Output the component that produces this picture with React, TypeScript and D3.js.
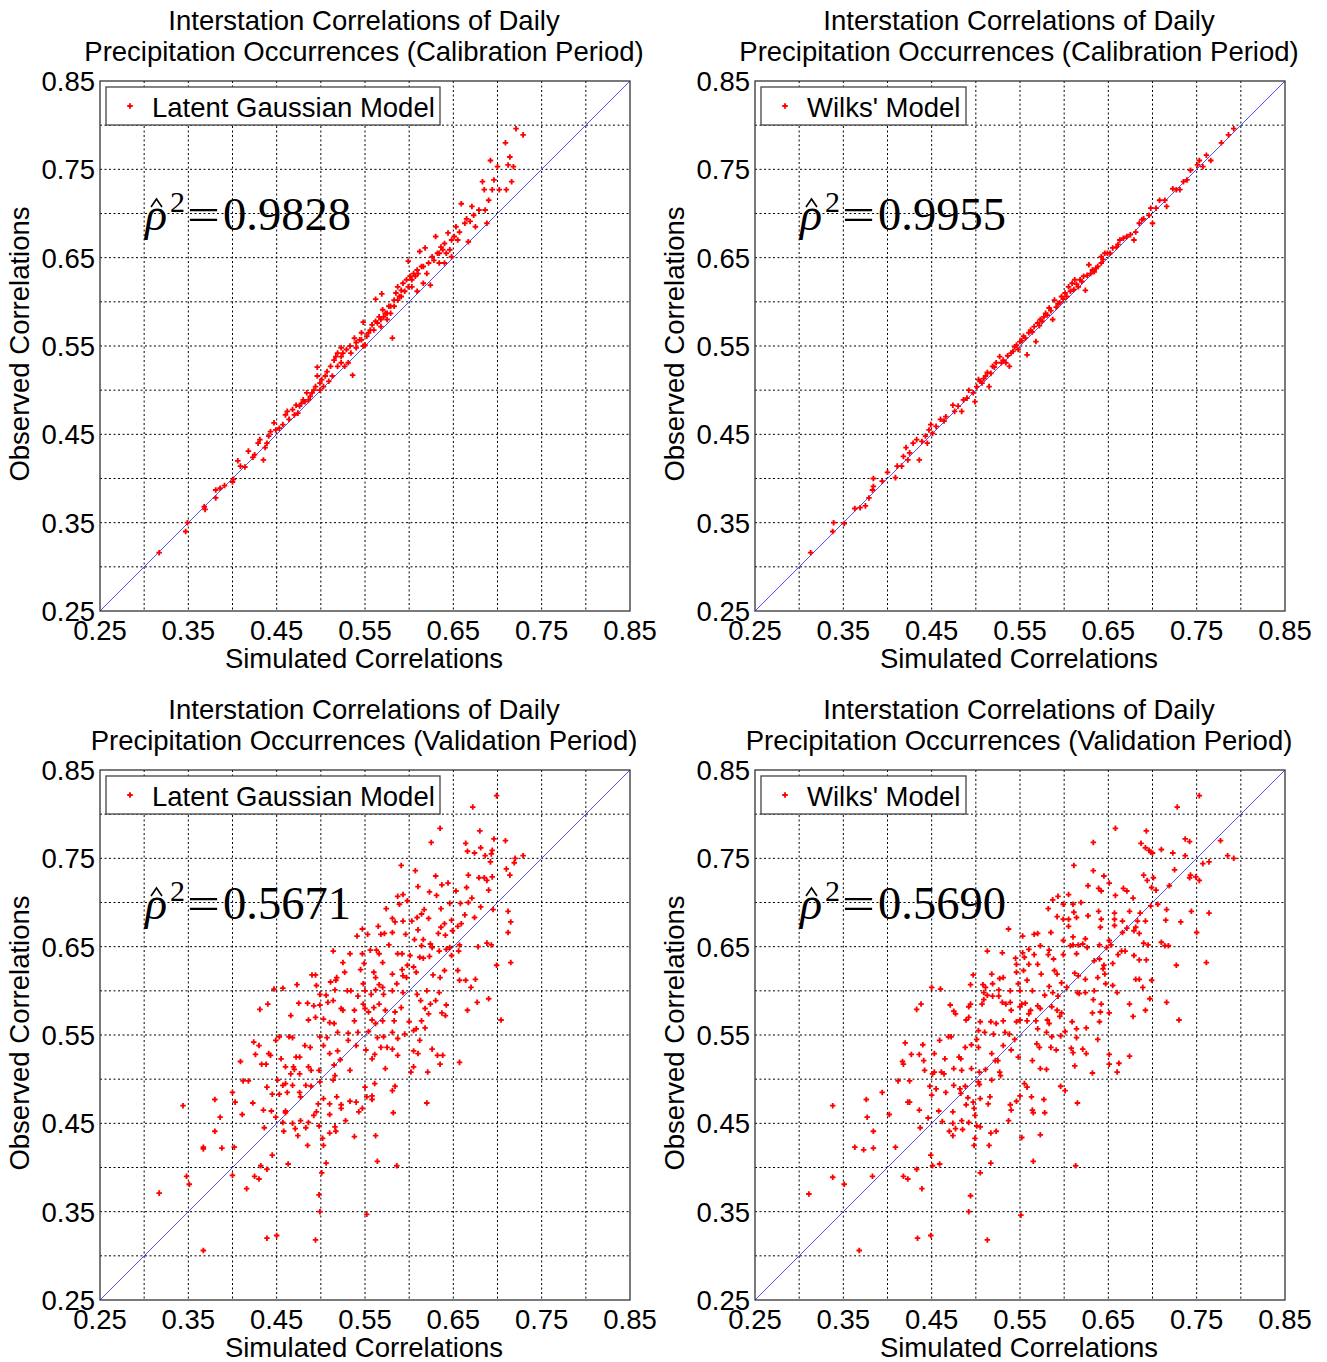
import React from "react";
import * as d3 from "d3";

type Pt = [number, number];

// [simulated, observed]
const calLatent: Pt[] = [
  [0.317,0.316],[0.349,0.350],[0.347,0.340],[0.368,0.368],[0.369,0.365],[0.381,0.378],[0.381,0.387],[0.386,0.389],[0.391,0.392],[0.401,0.399],
  [0.400,0.396],[0.406,0.420],[0.414,0.413],[0.409,0.414],[0.418,0.431],[0.423,0.424],[0.425,0.427],[0.429,0.440],[0.431,0.444],[0.435,0.421],
  [0.437,0.435],[0.439,0.440],[0.441,0.448],[0.443,0.453],[0.447,0.463],[0.449,0.455],[0.453,0.457],[0.457,0.461],[0.460,0.472],[0.464,0.467],
  [0.468,0.478],[0.472,0.483],[0.474,0.474],[0.478,0.485],[0.480,0.489],[0.484,0.497],[0.488,0.493],[0.492,0.500],[0.494,0.504],[0.496,0.526],
  [0.496,0.516],[0.499,0.508],[0.501,0.512],[0.505,0.516],[0.507,0.521],[0.511,0.527],[0.515,0.534],[0.517,0.538],[0.519,0.542],[0.523,0.548],
  [0.525,0.542],[0.527,0.527],[0.531,0.531],[0.536,0.517],[0.533,0.550],[0.538,0.559],[0.540,0.554],[0.544,0.557],[0.546,0.565],[0.548,0.550],
  [0.552,0.561],[0.556,0.568],[0.558,0.574],[0.562,0.578],[0.566,0.583],[0.568,0.572],[0.570,0.591],[0.573,0.587],[0.575,0.580],[0.577,0.595],
  [0.579,0.587],[0.581,0.559],[0.583,0.602],[0.548,0.577],[0.562,0.603],[0.569,0.609],[0.585,0.610],[0.587,0.617],[0.589,0.606],[0.591,0.613],
  [0.593,0.621],[0.597,0.625],[0.599,0.646],[0.601,0.629],[0.603,0.617],[0.605,0.632],[0.609,0.636],[0.612,0.657],[0.614,0.640],[0.618,0.661],
  [0.620,0.632],[0.624,0.619],[0.626,0.651],[0.630,0.674],[0.632,0.655],[0.634,0.644],[0.636,0.662],[0.640,0.666],[0.642,0.655],[0.644,0.678],
  [0.646,0.659],[0.648,0.670],[0.651,0.674],[0.653,0.685],[0.655,0.670],[0.657,0.679],[0.659,0.711],[0.663,0.689],[0.665,0.694],[0.669,0.691],
  [0.671,0.708],[0.673,0.698],[0.675,0.685],[0.679,0.704],[0.683,0.736],[0.685,0.727],[0.686,0.704],[0.690,0.715],[0.692,0.760],[0.694,0.727],
  [0.696,0.738],[0.700,0.753],[0.702,0.727],[0.710,0.727],[0.709,0.780],[0.712,0.755],[0.714,0.764],[0.716,0.736],[0.718,0.753],[0.721,0.796],
  [0.729,0.789],[0.688,0.689],[0.667,0.668],[0.648,0.651],[0.640,0.644],[0.616,0.621],[0.609,0.612],[0.523,0.538],[0.529,0.546],[0.534,0.542],
  [0.540,0.548],[0.546,0.557],[0.550,0.551],[0.554,0.565],[0.560,0.568],[0.564,0.576],[0.568,0.580],[0.571,0.583],[0.575,0.587],[0.579,0.595],
  [0.583,0.595],[0.587,0.602],[0.591,0.606],[0.595,0.612],[0.599,0.617],[0.603,0.625],[0.607,0.629],[0.610,0.632],[0.616,0.640],[0.622,0.644],
  [0.628,0.647],[0.634,0.655],[0.638,0.659],[0.462,0.476],[0.470,0.472],[0.476,0.482],[0.482,0.487],[0.486,0.489],[0.490,0.497],[0.499,0.500],
  [0.503,0.504],[0.509,0.510],[0.513,0.516],[0.519,0.527],[0.523,0.531],
];

const calWilks: Pt[] = [
  [0.313,0.316],[0.339,0.350],[0.338,0.340],[0.351,0.349],[0.363,0.366],[0.369,0.367],[0.375,0.369],[0.379,0.378],[0.383,0.387],[0.384,0.391],
  [0.384,0.400],[0.394,0.397],[0.400,0.407],[0.409,0.401],[0.411,0.414],[0.416,0.414],[0.418,0.425],[0.421,0.435],[0.423,0.421],[0.425,0.429],
  [0.429,0.440],[0.433,0.444],[0.436,0.421],[0.439,0.442],[0.443,0.448],[0.445,0.440],[0.447,0.455],[0.449,0.461],[0.451,0.451],[0.455,0.459],
  [0.460,0.467],[0.464,0.465],[0.466,0.470],[0.474,0.483],[0.476,0.476],[0.480,0.482],[0.484,0.476],[0.486,0.489],[0.490,0.491],[0.492,0.500],
  [0.497,0.497],[0.499,0.487],[0.501,0.504],[0.503,0.512],[0.507,0.508],[0.511,0.516],[0.515,0.504],[0.519,0.527],[0.523,0.531],[0.527,0.538],
  [0.531,0.534],[0.534,0.531],[0.538,0.527],[0.540,0.542],[0.544,0.549],[0.548,0.546],[0.550,0.555],[0.554,0.561],[0.558,0.540],[0.560,0.565],
  [0.562,0.568],[0.566,0.572],[0.568,0.555],[0.570,0.576],[0.573,0.580],[0.577,0.583],[0.579,0.587],[0.583,0.593],[0.587,0.580],[0.589,0.602],
  [0.593,0.598],[0.597,0.606],[0.601,0.610],[0.605,0.617],[0.609,0.621],[0.612,0.625],[0.616,0.617],[0.618,0.625],[0.622,0.629],[0.624,0.613],
  [0.628,0.642],[0.630,0.632],[0.634,0.634],[0.638,0.640],[0.642,0.644],[0.642,0.651],[0.646,0.655],[0.649,0.655],[0.655,0.661],[0.659,0.662],
  [0.663,0.670],[0.667,0.672],[0.671,0.674],[0.675,0.676],[0.679,0.670],[0.681,0.679],[0.685,0.689],[0.688,0.693],[0.690,0.694],[0.696,0.698],
  [0.700,0.689],[0.698,0.706],[0.704,0.706],[0.708,0.715],[0.714,0.715],[0.716,0.708],[0.723,0.728],[0.727,0.727],[0.731,0.727],[0.735,0.736],
  [0.739,0.738],[0.743,0.749],[0.751,0.755],[0.753,0.760],[0.757,0.753],[0.761,0.766],[0.766,0.760],[0.778,0.780],[0.786,0.789],[0.792,0.796],
  [0.505,0.510],[0.509,0.513],[0.513,0.520],[0.517,0.519],[0.521,0.526],[0.529,0.531],[0.536,0.539],[0.542,0.544],[0.546,0.551],[0.552,0.556],
  [0.556,0.559],[0.564,0.566],[0.572,0.573],[0.575,0.578],[0.581,0.585],[0.585,0.590],[0.591,0.594],[0.595,0.599],[0.599,0.603],[0.603,0.606],
  [0.607,0.612],[0.611,0.614],[0.614,0.620],[0.620,0.623],[0.626,0.630],[0.632,0.636],[0.636,0.638],[0.644,0.648],[0.652,0.655],[0.661,0.665],
];

const valLatent: Pt[] = [
  [0.699,0.821],[0.672,0.808],[0.635,0.784],[0.680,0.781],[0.625,0.768],[0.696,0.772],[0.664,0.767],[0.709,0.770],[0.666,0.758],[0.674,0.756],
  [0.681,0.762],[0.686,0.753],[0.692,0.746],[0.694,0.759],[0.693,0.755],[0.720,0.750],[0.729,0.753],[0.719,0.745],[0.591,0.742],[0.607,0.736],
  [0.710,0.738],[0.714,0.731],[0.630,0.730],[0.667,0.731],[0.679,0.728],[0.685,0.728],[0.688,0.725],[0.694,0.729],[0.690,0.714],[0.644,0.722],
  [0.637,0.720],[0.610,0.718],[0.665,0.717],[0.671,0.705],[0.623,0.712],[0.631,0.708],[0.593,0.709],[0.587,0.707],[0.653,0.713],[0.598,0.702],
  [0.646,0.699],[0.658,0.699],[0.667,0.700],[0.589,0.698],[0.574,0.693],[0.617,0.692],[0.636,0.693],[0.681,0.695],[0.695,0.692],[0.712,0.690],
  [0.663,0.686],[0.581,0.682],[0.603,0.679],[0.609,0.683],[0.614,0.687],[0.622,0.682],[0.674,0.683],[0.648,0.680],[0.640,0.676],[0.584,0.678],
  [0.593,0.679],[0.715,0.678],[0.659,0.676],[0.655,0.673],[0.636,0.672],[0.565,0.673],[0.581,0.666],[0.610,0.669],[0.633,0.665],[0.641,0.663],
  [0.649,0.668],[0.712,0.666],[0.547,0.670],[0.541,0.662],[0.553,0.664],[0.568,0.664],[0.572,0.665],[0.596,0.664],[0.616,0.658],[0.606,0.658],
  [0.624,0.653],[0.688,0.654],[0.693,0.652],[0.678,0.650],[0.626,0.649],[0.614,0.651],[0.646,0.649],[0.656,0.645],[0.648,0.640],[0.642,0.647],
  [0.657,0.652],[0.563,0.646],[0.577,0.652],[0.587,0.642],[0.592,0.642],[0.623,0.639],[0.616,0.637],[0.612,0.638],[0.601,0.640],[0.634,0.645],
  [0.514,0.645],[0.533,0.642],[0.547,0.642],[0.556,0.646],[0.566,0.642],[0.570,0.632],[0.549,0.631],[0.525,0.632],[0.715,0.632],[0.699,0.629],
  [0.598,0.629],[0.605,0.627],[0.608,0.621],[0.627,0.618],[0.635,0.615],[0.640,0.623],[0.655,0.623],[0.657,0.612],[0.664,0.612],[0.675,0.613],
  [0.670,0.604],[0.592,0.624],[0.581,0.619],[0.593,0.617],[0.586,0.608],[0.597,0.615],[0.560,0.621],[0.562,0.615],[0.545,0.624],[0.527,0.621],
  [0.494,0.618],[0.490,0.618],[0.495,0.606],[0.518,0.615],[0.511,0.610],[0.517,0.612],[0.548,0.608],[0.566,0.607],[0.570,0.604],[0.550,0.600],
  [0.562,0.601],[0.581,0.600],[0.593,0.598],[0.609,0.596],[0.620,0.600],[0.634,0.598],[0.473,0.607],[0.457,0.603],[0.447,0.602],[0.499,0.596],
  [0.506,0.595],[0.530,0.600],[0.534,0.600],[0.516,0.601],[0.542,0.594],[0.557,0.596],[0.571,0.596],[0.677,0.587],[0.690,0.591],[0.666,0.578],
  [0.642,0.584],[0.630,0.589],[0.613,0.589],[0.624,0.585],[0.618,0.580],[0.641,0.572],[0.637,0.575],[0.704,0.567],[0.440,0.585],[0.431,0.579],
  [0.475,0.586],[0.485,0.586],[0.492,0.583],[0.499,0.584],[0.508,0.587],[0.514,0.589],[0.523,0.580],[0.525,0.578],[0.538,0.578],[0.548,0.585],
  [0.550,0.580],[0.554,0.576],[0.560,0.581],[0.566,0.585],[0.573,0.578],[0.584,0.576],[0.591,0.581],[0.466,0.572],[0.486,0.567],[0.494,0.570],
  [0.503,0.568],[0.510,0.564],[0.515,0.563],[0.538,0.566],[0.558,0.567],[0.562,0.563],[0.570,0.566],[0.583,0.566],[0.600,0.565],[0.614,0.566],
  [0.622,0.574],[0.618,0.558],[0.608,0.557],[0.605,0.555],[0.612,0.544],[0.595,0.551],[0.587,0.546],[0.581,0.553],[0.571,0.548],[0.564,0.547],
  [0.554,0.554],[0.542,0.553],[0.531,0.552],[0.519,0.553],[0.507,0.547],[0.499,0.548],[0.464,0.548],[0.468,0.547],[0.453,0.548],[0.449,0.544],
  [0.424,0.542],[0.430,0.538],[0.426,0.528],[0.441,0.529],[0.443,0.527],[0.455,0.523],[0.472,0.525],[0.476,0.525],[0.482,0.538],[0.488,0.536],
  [0.486,0.514],[0.503,0.538],[0.510,0.529],[0.519,0.532],[0.522,0.522],[0.531,0.544],[0.540,0.538],[0.551,0.533],[0.558,0.523],[0.561,0.528],
  [0.568,0.536],[0.575,0.536],[0.581,0.534],[0.587,0.527],[0.605,0.532],[0.610,0.529],[0.626,0.534],[0.632,0.527],[0.638,0.527],[0.635,0.517],
  [0.657,0.519],[0.573,0.512],[0.605,0.514],[0.621,0.508],[0.602,0.508],[0.409,0.520],[0.438,0.517],[0.433,0.517],[0.460,0.514],[0.469,0.514],
  [0.470,0.511],[0.466,0.506],[0.476,0.506],[0.489,0.510],[0.498,0.510],[0.515,0.516],[0.516,0.504],[0.533,0.510],[0.412,0.498],[0.418,0.498],
  [0.439,0.491],[0.451,0.499],[0.457,0.493],[0.460,0.495],[0.468,0.493],[0.462,0.485],[0.445,0.483],[0.453,0.483],[0.483,0.493],[0.489,0.492],
  [0.499,0.497],[0.514,0.499],[0.550,0.491],[0.561,0.495],[0.584,0.492],[0.581,0.487],[0.476,0.485],[0.477,0.480],[0.497,0.472],[0.503,0.478],
  [0.510,0.472],[0.518,0.480],[0.523,0.471],[0.533,0.475],[0.540,0.474],[0.552,0.480],[0.558,0.481],[0.558,0.477],[0.620,0.473],[0.400,0.485],
  [0.403,0.474],[0.423,0.473],[0.380,0.477],[0.344,0.470],[0.386,0.457],[0.411,0.460],[0.435,0.465],[0.444,0.464],[0.460,0.464],[0.460,0.462],
  [0.468,0.450],[0.477,0.453],[0.486,0.451],[0.483,0.445],[0.492,0.459],[0.495,0.463],[0.510,0.460],[0.523,0.467],[0.528,0.453],[0.543,0.463],
  [0.547,0.467],[0.582,0.462],[0.380,0.441],[0.367,0.423],[0.367,0.421],[0.388,0.422],[0.402,0.423],[0.436,0.445],[0.449,0.457],[0.457,0.451],
  [0.458,0.441],[0.471,0.444],[0.474,0.436],[0.498,0.447],[0.502,0.433],[0.510,0.439],[0.516,0.446],[0.517,0.441],[0.538,0.435],[0.562,0.436],
  [0.485,0.425],[0.503,0.425],[0.445,0.414],[0.463,0.404],[0.506,0.405],[0.564,0.407],[0.586,0.402],[0.432,0.402],[0.439,0.398],[0.400,0.391],
  [0.425,0.390],[0.430,0.387],[0.348,0.390],[0.351,0.381],[0.416,0.376],[0.501,0.394],[0.317,0.371],[0.498,0.369],[0.499,0.350],[0.552,0.347],
  [0.439,0.320],[0.450,0.323],[0.494,0.318],[0.367,0.306],
];

const valWilks: Pt[] = [
  [0.753,0.821],[0.728,0.808],[0.658,0.784],[0.693,0.781],[0.633,0.768],[0.687,0.767],[0.692,0.762],[0.696,0.759],[0.698,0.757],[0.700,0.756],
  [0.710,0.760],[0.723,0.756],[0.737,0.772],[0.742,0.769],[0.777,0.770],[0.737,0.753],[0.785,0.753],[0.792,0.750],[0.757,0.744],[0.764,0.746],
  [0.611,0.742],[0.633,0.736],[0.725,0.737],[0.690,0.731],[0.743,0.731],[0.749,0.729],[0.742,0.728],[0.753,0.725],[0.645,0.730],[0.694,0.725],
  [0.701,0.728],[0.651,0.722],[0.627,0.719],[0.719,0.719],[0.699,0.717],[0.704,0.714],[0.639,0.716],[0.642,0.713],[0.667,0.716],[0.671,0.713],
  [0.658,0.708],[0.605,0.709],[0.593,0.707],[0.587,0.703],[0.678,0.705],[0.619,0.700],[0.706,0.698],[0.698,0.696],[0.599,0.698],[0.610,0.698],
  [0.582,0.693],[0.639,0.690],[0.657,0.688],[0.674,0.690],[0.686,0.688],[0.716,0.692],[0.744,0.690],[0.764,0.688],[0.611,0.689],[0.592,0.684],
  [0.599,0.681],[0.605,0.681],[0.614,0.683],[0.627,0.685],[0.642,0.681],[0.657,0.681],[0.666,0.679],[0.683,0.679],[0.692,0.679],[0.715,0.680],
  [0.732,0.678],[0.537,0.670],[0.605,0.673],[0.641,0.672],[0.657,0.674],[0.671,0.671],[0.681,0.672],[0.666,0.666],[0.685,0.665],[0.679,0.668],
  [0.570,0.665],[0.566,0.664],[0.553,0.662],[0.585,0.666],[0.610,0.661],[0.624,0.659],[0.651,0.657],[0.750,0.666],[0.710,0.655],[0.599,0.657],
  [0.616,0.652],[0.621,0.653],[0.626,0.649],[0.607,0.651],[0.610,0.652],[0.640,0.652],[0.648,0.649],[0.653,0.652],[0.690,0.654],[0.695,0.652],
  [0.714,0.651],[0.718,0.651],[0.665,0.645],[0.573,0.651],[0.583,0.646],[0.560,0.647],[0.513,0.645],[0.530,0.643],[0.553,0.643],[0.566,0.641],
  [0.582,0.641],[0.599,0.641],[0.614,0.642],[0.661,0.641],[0.669,0.645],[0.679,0.640],[0.655,0.631],[0.640,0.636],[0.685,0.635],[0.693,0.635],
  [0.727,0.629],[0.761,0.632],[0.555,0.638],[0.545,0.637],[0.588,0.636],[0.634,0.634],[0.645,0.629],[0.546,0.630],[0.560,0.630],[0.570,0.630],
  [0.554,0.623],[0.546,0.621],[0.574,0.619],[0.589,0.623],[0.592,0.619],[0.612,0.620],[0.616,0.617],[0.624,0.613],[0.638,0.615],[0.646,0.619],
  [0.644,0.625],[0.681,0.613],[0.685,0.613],[0.699,0.612],[0.647,0.608],[0.655,0.606],[0.689,0.604],[0.660,0.598],[0.697,0.591],[0.518,0.619],
  [0.527,0.614],[0.531,0.615],[0.497,0.618],[0.494,0.607],[0.508,0.607],[0.511,0.604],[0.519,0.608],[0.526,0.601],[0.539,0.600],[0.548,0.608],
  [0.550,0.600],[0.558,0.612],[0.564,0.600],[0.583,0.605],[0.587,0.598],[0.597,0.609],[0.603,0.604],[0.615,0.598],[0.624,0.598],[0.634,0.600],
  [0.450,0.604],[0.460,0.602],[0.509,0.598],[0.513,0.595],[0.519,0.594],[0.526,0.594],[0.593,0.594],[0.578,0.595],[0.617,0.597],[0.633,0.590],
  [0.642,0.585],[0.674,0.585],[0.716,0.587],[0.730,0.567],[0.692,0.578],[0.678,0.571],[0.651,0.575],[0.641,0.576],[0.632,0.575],[0.471,0.584],
  [0.475,0.577],[0.477,0.574],[0.433,0.579],[0.438,0.585],[0.494,0.585],[0.492,0.582],[0.492,0.570],[0.489,0.567],[0.507,0.585],[0.509,0.590],
  [0.530,0.587],[0.534,0.585],[0.540,0.578],[0.539,0.587],[0.550,0.582],[0.552,0.585],[0.556,0.586],[0.562,0.578],[0.570,0.583],[0.573,0.580],
  [0.586,0.582],[0.592,0.578],[0.597,0.575],[0.505,0.565],[0.517,0.565],[0.523,0.563],[0.531,0.566],[0.546,0.565],[0.550,0.567],[0.558,0.566],
  [0.560,0.574],[0.568,0.566],[0.581,0.567],[0.583,0.563],[0.595,0.571],[0.609,0.565],[0.614,0.557],[0.625,0.558],[0.640,0.565],[0.503,0.555],
  [0.510,0.553],[0.520,0.551],[0.533,0.553],[0.538,0.551],[0.544,0.545],[0.570,0.557],[0.580,0.553],[0.586,0.548],[0.596,0.549],[0.601,0.554],
  [0.614,0.547],[0.472,0.548],[0.469,0.548],[0.459,0.544],[0.420,0.541],[0.440,0.539],[0.427,0.528],[0.436,0.528],[0.441,0.521],[0.453,0.529],
  [0.465,0.523],[0.481,0.525],[0.483,0.523],[0.488,0.536],[0.495,0.539],[0.501,0.545],[0.503,0.536],[0.518,0.529],[0.525,0.521],[0.531,0.538],
  [0.540,0.533],[0.548,0.525],[0.564,0.521],[0.569,0.540],[0.572,0.536],[0.585,0.536],[0.591,0.533],[0.608,0.535],[0.610,0.530],[0.621,0.534],
  [0.625,0.529],[0.638,0.545],[0.651,0.528],[0.674,0.526],[0.662,0.518],[0.651,0.517],[0.660,0.508],[0.632,0.507],[0.612,0.515],[0.573,0.512],
  [0.580,0.511],[0.417,0.520],[0.418,0.517],[0.442,0.510],[0.451,0.506],[0.453,0.508],[0.461,0.508],[0.464,0.506],[0.475,0.512],[0.484,0.510],
  [0.495,0.512],[0.504,0.508],[0.511,0.511],[0.518,0.499],[0.522,0.521],[0.527,0.508],[0.528,0.504],[0.412,0.498],[0.425,0.498],[0.448,0.492],
  [0.450,0.482],[0.455,0.489],[0.466,0.485],[0.475,0.493],[0.482,0.489],[0.483,0.484],[0.503,0.497],[0.504,0.494],[0.488,0.492],[0.555,0.495],
  [0.558,0.491],[0.596,0.492],[0.601,0.487],[0.394,0.485],[0.376,0.477],[0.423,0.474],[0.425,0.474],[0.338,0.470],[0.491,0.479],[0.497,0.474],
  [0.505,0.478],[0.516,0.480],[0.514,0.472],[0.489,0.471],[0.474,0.463],[0.499,0.459],[0.498,0.467],[0.550,0.481],[0.546,0.475],[0.539,0.471],
  [0.540,0.465],[0.563,0.480],[0.564,0.465],[0.565,0.462],[0.577,0.477],[0.578,0.462],[0.615,0.473],[0.377,0.457],[0.402,0.460],[0.436,0.465],
  [0.446,0.456],[0.458,0.464],[0.462,0.452],[0.474,0.450],[0.484,0.453],[0.492,0.451],[0.501,0.447],[0.505,0.446],[0.537,0.453],[0.384,0.441],
  [0.363,0.423],[0.373,0.420],[0.384,0.422],[0.409,0.423],[0.437,0.445],[0.470,0.441],[0.474,0.436],[0.477,0.444],[0.485,0.443],[0.499,0.433],
  [0.498,0.425],[0.517,0.439],[0.523,0.441],[0.515,0.425],[0.552,0.434],[0.573,0.437],[0.433,0.398],[0.449,0.414],[0.451,0.402],[0.459,0.404],
  [0.517,0.405],[0.565,0.407],[0.613,0.402],[0.505,0.394],[0.383,0.390],[0.418,0.390],[0.423,0.387],[0.338,0.389],[0.351,0.381],[0.439,0.376],
  [0.311,0.370],[0.494,0.368],[0.492,0.350],[0.551,0.346],[0.434,0.320],[0.449,0.323],[0.513,0.318],[0.368,0.306],
];

const tickLabels = [0.25, 0.35, 0.45, 0.55, 0.65, 0.75, 0.85];
const gridValues = [0.3, 0.35, 0.4, 0.45, 0.5, 0.55, 0.6, 0.65, 0.7, 0.75, 0.8];
const axisDomain: [number, number] = [0.25, 0.85];

const SANS = "'Liberation Sans', Arial, sans-serif";
const SERIF = "'Liberation Serif', 'DejaVu Serif', serif";
const FS = 27.5;

const marker = d3.symbol().type(d3.symbolCross).size(17)() || "";

type PanelProps = {
  left: number;
  top: number;
  data: Pt[];
  period: string;
  model: string;
  legendW: number;
  rho: string;
};

function Panel({ left, top, data, period, model, legendW, rho }: PanelProps) {
  const size = 530;
  const x = d3.scaleLinear().domain(axisDomain).range([left, left + size]);
  const y = d3.scaleLinear().domain(axisDomain).range([top + size, top]);
  const cx = left + size / 2 - 1;
  const diag = d3.line<number>().x((d) => x(d)).y((d) => y(d))(axisDomain);
  const rx = left + 45;
  const ry = top + 149;
  return (
    <g>
      <text x={cx} y={top - 51} textAnchor="middle" fontFamily={SANS} fontSize={FS}>
        Interstation Correlations of Daily
      </text>
      <text x={cx} y={top - 20} textAnchor="middle" fontFamily={SANS} fontSize={FS}>
        {`Precipitation Occurrences (${period} Period)`}
      </text>
      {gridValues.map((g) => (
        <g key={"g" + g}>
          <line x1={x(g)} x2={x(g)} y1={top} y2={top + size} stroke="#000" strokeWidth={1} strokeDasharray="2,2.5" />
          <line x1={left} x2={left + size} y1={y(g)} y2={y(g)} stroke="#000" strokeWidth={1} strokeDasharray="2,2.5" />
        </g>
      ))}
      <path d={diag || ""} stroke="#5050ff" strokeWidth={1} fill="none" />
      {data.map((p, i) => (
        <path key={i} d={marker} transform={`translate(${x(p[0])},${y(p[1])})`} fill="#ff0000" />
      ))}
      <rect x={left} y={top} width={size} height={size} fill="none" stroke="#333" strokeWidth={1.3} />
      {tickLabels.map((t) => (
        <text key={"x" + t} x={x(t)} y={top + size + 29} textAnchor="middle" fontFamily={SANS} fontSize={FS}>
          {t.toFixed(2)}
        </text>
      ))}
      {tickLabels.map((t) => (
        <text key={"y" + t} x={left - 5} y={y(t) + 10} textAnchor="end" fontFamily={SANS} fontSize={FS}>
          {t.toFixed(2)}
        </text>
      ))}
      <text x={cx} y={top + size + 57} textAnchor="middle" fontFamily={SANS} fontSize={FS}>
        Simulated Correlations
      </text>
      <text
        transform={`translate(${left - 71},${top + size / 2 - 2}) rotate(-90)`}
        textAnchor="middle"
        fontFamily={SANS}
        fontSize={FS}
      >
        Observed Correlations
      </text>
      <rect x={left + 6} y={top + 6} width={legendW} height={38} fill="#fff" stroke="#444" strokeWidth={1.3} />
      <path d={marker} transform={`translate(${left + 30},${top + 25})`} fill="#ff0000" />
      <text x={left + 52} y={top + 36} fontFamily={SANS} fontSize={FS}>
        {model}
      </text>
      <text x={rx} y={ry} fontFamily={SERIF} fontSize={46} fontStyle="italic">
        {"\u03C1"}
      </text>
      <path
        d={`M${rx + 6},${ry - 23} L${rx + 11.5},${ry - 31} L${rx + 17},${ry - 23}`}
        fill="none"
        stroke="#000"
        strokeWidth={1.6}
      />
      <text x={rx + 25} y={ry - 18} fontFamily={SERIF} fontSize={30}>
        2
      </text>
      <text x={rx + 42} y={ry} fontFamily={SERIF} fontSize={46} textLength={33} lengthAdjust="spacingAndGlyphs">
        =
      </text>
      <text x={rx + 78} y={ry} fontFamily={SERIF} fontSize={46} textLength={128} lengthAdjust="spacingAndGlyphs">
        {rho}
      </text>
    </g>
  );
}

export default function App() {
  return (
    <svg width={1327} height={1362} style={{ position: "absolute", left: 0, top: 0, background: "#fff" }}>
      <rect x={0} y={0} width={1327} height={1362} fill="#fff" />
      <Panel left={100} top={81} data={calLatent} period="Calibration" model="Latent Gaussian Model" legendW={334} rho="0.9828" />
      <Panel left={755} top={81} data={calWilks} period="Calibration" model="Wilks' Model" legendW={205} rho="0.9955" />
      <Panel left={100} top={770} data={valLatent} period="Validation" model="Latent Gaussian Model" legendW={334} rho="0.5671" />
      <Panel left={755} top={770} data={valWilks} period="Validation" model="Wilks' Model" legendW={205} rho="0.5690" />
    </svg>
  );
}
